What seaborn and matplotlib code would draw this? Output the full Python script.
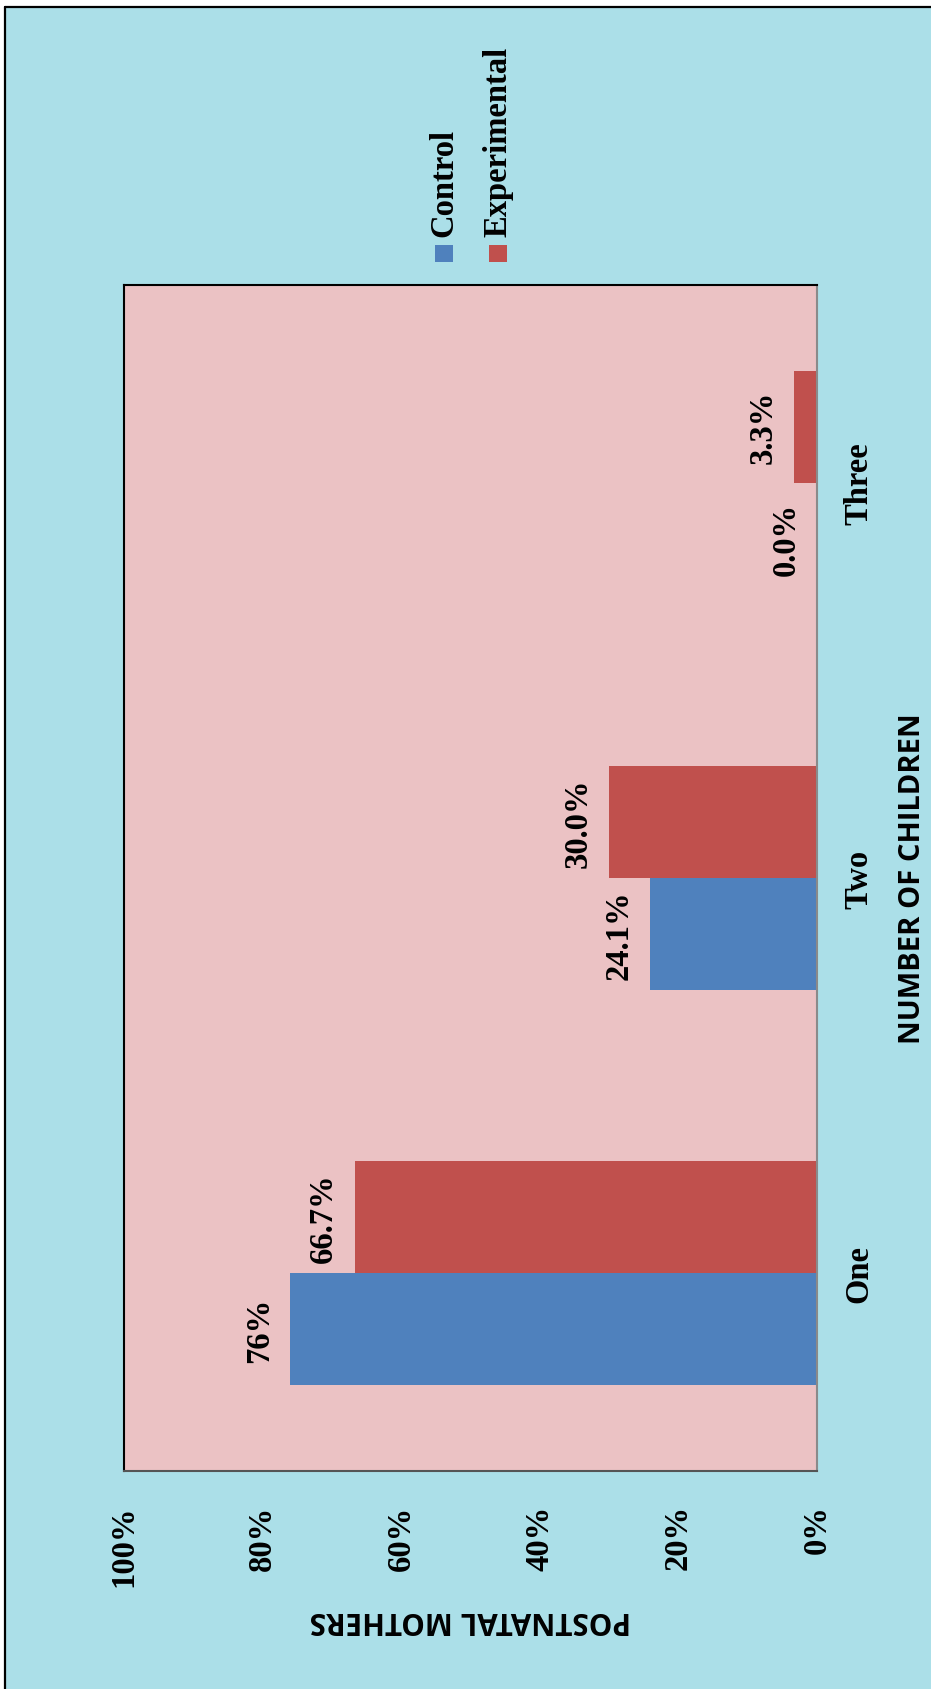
import matplotlib
matplotlib.use("Agg")
import matplotlib.pyplot as plt
from matplotlib.patches import Rectangle
from matplotlib.lines import Line2D
import seaborn as sns
import pandas as pd

# ---- data ----
categories = ["One", "Two", "Three"]
control = [76.0, 24.1, 0.0]
experimental = [66.7, 30.0, 3.3]
control_labels = ["76%", "24.1%", "0.0%"]
experimental_labels = ["66.7%", "30.0%", "3.3%"]
value_ticks = [0, 20, 40, 60, 80, 100]
value_tick_labels = ["0%", "20%", "40%", "60%", "80%", "100%"]
series_names = ["Control", "Experimental"]
series_colors = {"Control": "#4F81BD", "Experimental": "#C0504D"}

df = pd.DataFrame({
    "Children": categories * 2,
    "Value": control + experimental,
    "Group": ["Control"] * 3 + ["Experimental"] * 3,
    "Label": control_labels + experimental_labels,
})

sns.set_style("white")
plt.rcParams["font.family"] = ["Liberation Serif", "DejaVu Serif"]
plt.rcParams["text.color"] = "black"
plt.rcParams["axes.labelcolor"] = "black"
plt.rcParams["xtick.color"] = "black"
plt.rcParams["ytick.color"] = "black"

W, H = 931, 1690
fig = plt.figure(figsize=(W / 100, H / 100), dpi=100)
fig.patch.set_facecolor("white")

# background panel with black top/left border
bg_color = "#ABDFE8"
fig.add_artist(Rectangle((5 / W, 0), 1 - 5 / W, 1 - 8 / H, transform=fig.transFigure,
                         facecolor=bg_color, edgecolor="none", zorder=0))
fig.add_artist(Line2D([5 / W, 1], [1 - 8 / H, 1 - 8 / H], transform=fig.transFigure,
                      color="black", lw=1.6, zorder=1))
fig.add_artist(Line2D([5 / W, 5 / W], [0, 1 - 8 / H], transform=fig.transFigure,
                      color="black", lw=1.6, zorder=1))

ax_l, ax_r, ax_t, ax_b = 124, 817, 286, 1472
ax = fig.add_axes([ax_l / W, 1 - ax_b / H, (ax_r - ax_l) / W, (ax_b - ax_t) / H])
ax.set_facecolor("#EBC2C4")

order = categories[::-1]  # Three at top, One at bottom
sns.barplot(data=df, y="Children", x="Value", hue="Group", order=order,
            hue_order=["Experimental", "Control"], palette=series_colors,
            orient="h", width=0.567, gap=0, saturation=1, legend=False,
            edgecolor="none", ax=ax)

ax.set_xlim(100, 0)
ax.set_ylim(2.5, -0.5)

label_lookup = {(g, c): l for g, c, l in zip(df["Group"], df["Children"], df["Label"])}
for cont, grp in zip(ax.containers, ["Experimental", "Control"]):
    for bar in cont:
        yc = bar.get_y() + bar.get_height() / 2
        cat = order[int(round(yc))]
        ax.annotate(label_lookup[(grp, cat)], xy=(bar.get_width(), yc),
                    xytext=(-31, 0), textcoords="offset pixels",
                    ha="center", va="center", rotation=90,
                    fontsize=23.5, fontweight="bold", color="black")

ax.set_xticks(value_ticks)
ax.set_xticklabels(value_tick_labels, rotation=90, fontsize=23.5, fontweight="bold")
ax.tick_params(axis="x", length=0, pad=24)

ax.yaxis.tick_right()
ax.set_yticks(range(len(order)))
ax.set_yticklabels(order, rotation=90, va="center", fontsize=23.5, fontweight="bold")
ax.tick_params(axis="y", length=0, pad=19)

sans = ["Open Sans", "DejaVu Sans"]
ax.set_xlabel("POSTNATAL MOTHERS", rotation=180, fontsize=21.3, fontweight="bold",
              family=sans, va="center", ha="center")
ax.xaxis.set_label_coords(0.5, -0.125)
ax.yaxis.set_label_position("right")
ax.set_ylabel("NUMBER OF CHILDREN", rotation=90, fontsize=21, fontweight="bold",
              family=sans, va="center", ha="center")
ax.yaxis.set_label_coords((912 - ax_l) / (ax_r - ax_l), 0.5)

for side in ["top", "left"]:
    ax.spines[side].set_color("black")
    ax.spines[side].set_linewidth(1.5)
ax.spines["right"].set_color("#8A8A8A")
ax.spines["right"].set_linewidth(1.5)
ax.spines["bottom"].set_color("#555555")
ax.spines["bottom"].set_linewidth(1.5)

# legend (rotated, drawn manually)
leg_items = [("Control", 444), ("Experimental", 498)]
for name, xc in leg_items:
    fig.add_artist(Rectangle(((xc - 9) / W, 1 - 263 / H), 18 / W, 17 / H,
                             transform=fig.transFigure, facecolor=series_colors[name],
                             edgecolor="none", zorder=2))
    fig.text(xc / W, 1 - 237 / H, name, rotation=90, ha="center", va="bottom",
             fontsize=23.5, fontweight="bold", color="black")

fig.savefig("out.png", dpi=100)
